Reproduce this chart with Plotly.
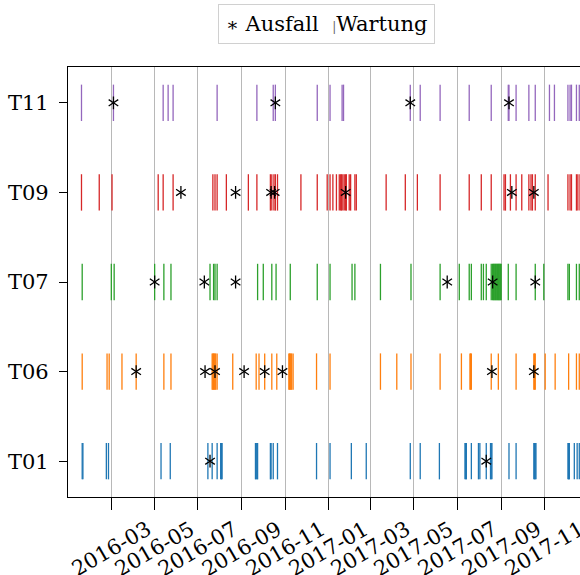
import plotly.graph_objects as go

machines = ["T01", "T06", "T07", "T09", "T11"]
colors = ["#1f77b4", "#ff7f0e", "#2ca02c", "#d62728", "#9467bd"]

T01_wartung = ["2016-01-20","2016-01-21","2016-02-23","2016-02-26","2016-05-10","2016-05-23","2016-07-15","2016-07-21",
               "2016-07-28","2016-08-02","2016-08-03","2016-08-04","2016-09-20","2016-09-21","2016-09-22","2016-09-23",
               "2016-10-11","2016-10-12","2016-10-15","2016-10-21","2016-12-15","2017-01-03","2017-02-02","2017-02-23",
               "2017-04-26","2017-05-10","2017-06-06","2017-07-12","2017-07-13","2017-07-14","2017-07-21","2017-07-31",
               "2017-08-02","2017-08-11","2017-08-17","2017-08-18","2017-08-19","2017-09-12","2017-09-22","2017-10-17",
               "2017-10-18","2017-10-19","2017-10-20","2017-12-04","2017-12-05","2017-12-06","2017-12-13","2017-12-17",
               "2017-12-20"]
T01_ausfall = ["2016-07-18", "2017-08-11"]

T06_wartung = ["2016-01-20","2016-02-24","2016-02-27","2016-03-16","2016-04-05","2016-05-14","2016-05-24","2016-07-21",
               "2016-07-22","2016-07-23","2016-07-24","2016-07-25","2016-07-26","2016-07-28","2016-08-19","2016-09-21",
               "2016-09-25","2016-10-03","2016-10-13","2016-10-20","2016-11-06","2016-11-07","2016-11-08","2016-11-09",
               "2016-11-10","2016-11-12","2016-12-15","2017-01-03","2017-03-15","2017-04-07","2017-04-27","2017-06-07",
               "2017-07-07","2017-07-19","2017-07-20","2017-07-21","2017-08-18","2017-08-28","2017-09-22","2017-10-17",
               "2017-10-18","2017-10-19","2017-11-02","2017-11-16","2017-12-05","2017-12-16","2017-12-20"]
T06_ausfall = ["2016-04-05","2016-07-11","2016-07-25","2016-09-04","2016-10-03","2016-10-28","2017-08-19","2017-10-17"]

T07_wartung = ["2016-01-20","2016-03-01","2016-03-05","2016-05-01","2016-05-14","2016-05-24","2016-07-18","2016-07-23",
               "2016-07-25","2016-07-28","2016-09-23","2016-10-01","2016-10-13","2016-10-19","2016-11-08","2016-12-16",
               "2017-01-03","2017-02-03","2017-02-07","2017-03-15","2017-04-27","2017-06-07","2017-07-04","2017-07-18",
               "2017-07-21","2017-08-04","2017-08-07","2017-08-11","2017-08-18","2017-08-20","2017-08-21","2017-08-22",
               "2017-08-23","2017-08-24","2017-08-25","2017-08-26","2017-08-27","2017-08-28","2017-08-29","2017-08-30",
               "2017-08-31","2017-09-01","2017-09-11","2017-09-22","2017-10-19","2017-10-31","2017-12-04","2017-12-06",
               "2017-12-16","2017-12-20"]
T07_ausfall = ["2016-05-01","2016-07-10","2016-08-23","2017-06-17","2017-08-20","2017-10-19"]

T09_wartung = ["2016-01-19","2016-02-13","2016-03-02","2016-05-06","2016-05-13","2016-05-27","2016-07-22","2016-07-25",
               "2016-07-28","2016-08-10","2016-09-10","2016-09-22","2016-10-11","2016-10-13","2016-10-16","2016-10-18",
               "2016-10-21","2016-11-23","2016-12-16","2016-12-30","2017-01-03","2017-01-07","2017-01-12","2017-01-16",
               "2017-01-18","2017-01-19","2017-01-21","2017-01-23","2017-01-25","2017-01-26","2017-01-30","2017-02-01",
               "2017-02-07","2017-02-09","2017-03-23","2017-04-19","2017-05-06","2017-06-07","2017-07-18","2017-08-04",
               "2017-08-18","2017-09-05","2017-09-07","2017-09-14","2017-09-22","2017-09-30","2017-10-10","2017-10-13",
               "2017-10-15","2017-10-19","2017-11-06","2017-12-04","2017-12-07","2017-12-09","2017-12-16","2017-12-18",
               "2017-12-21"]
T09_ausfall = ["2016-06-07","2016-08-23","2016-10-12","2016-10-17","2017-01-25","2017-09-16","2017-10-17"]

T11_wartung = ["2016-01-19","2016-03-04","2016-05-13","2016-05-20","2016-05-27","2016-07-28","2016-09-22","2016-10-15",
               "2016-10-18","2016-12-16","2017-01-03","2017-01-20","2017-01-22","2017-04-26","2017-05-10","2017-06-07",
               "2017-07-18","2017-08-18","2017-09-11","2017-09-12","2017-09-22","2017-10-10","2017-10-19","2017-11-08",
               "2017-11-15","2017-12-04","2017-12-07","2017-12-09","2017-12-16","2017-12-20"]
T11_ausfall = ["2016-03-04","2016-10-18","2017-04-26","2017-09-12"]

wartung = [T01_wartung, T06_wartung, T07_wartung, T09_wartung, T11_wartung]
ausfall = [T01_ausfall, T06_ausfall, T07_ausfall, T09_ausfall, T11_ausfall]

tick_dates = ["2016-03-01","2016-05-01","2016-07-01","2016-09-01","2016-11-01","2017-01-01",
              "2017-03-01","2017-05-01","2017-07-01","2017-09-01","2017-11-01"]
tick_labels = ["2016-03","2016-05","2016-07","2016-09","2016-11","2017-01",
               "2017-03","2017-05","2017-07","2017-09","2017-11"]

legend_names = ["Ausfall", "Wartung"]

FONT = "DejaVu Serif"

fig = go.Figure()

# Maintenance events (vertical line markers)
for m, c, dates in zip(machines, colors, wartung):
    fig.add_trace(go.Scatter(
        x=dates, y=[m] * len(dates), mode="markers", name=legend_names[1],
        marker=dict(symbol="line-ns", size=26, color=c, line=dict(color=c, width=1.3)),
        showlegend=False, hoverinfo="x+y"))

# Failures (six-armed asterisks = y-up + y-down overlaid)
ax, ay = [], []
for m, dates in zip(machines, ausfall):
    ax += dates
    ay += [m] * len(dates)
for sym in ["y-up", "y-down"]:
    fig.add_trace(go.Scatter(
        x=ax, y=ay, mode="markers", name=legend_names[0], showlegend=False,
        marker=dict(symbol=sym, size=8, color="black", line=dict(color="black", width=1.3))))

# Legend box (as in the reference: compact, framed)
legend_text = ("<span style='font-size:19px'>∗</span> " + legend_names[0] +
               "  <span style='font-size:12px;color:#666666'>|</span>" + legend_names[1])
fig.add_annotation(x=0.505, xref="paper", y=1.1, yref="paper", text=legend_text,
                   showarrow=False, xanchor="center", yanchor="middle",
                   bordercolor="#d0d0d0", borderwidth=1, borderpad=7, bgcolor="white",
                   font=dict(family=FONT, size=21, color="black"))

for d, lab in zip(tick_dates, tick_labels):
    fig.add_annotation(x=d, xref="x", y=0, yref="paper", yshift=-52, text=lab, showarrow=False,
                       textangle=-30, xanchor="center", yanchor="middle",
                       font=dict(family=FONT, size=21, color="black"))

fig.update_layout(
    width=580, height=575,
    margin=dict(l=68, r=0, t=67, b=78),
    paper_bgcolor="white", plot_bgcolor="white",
    font=dict(family=FONT, size=21, color="black"),
    showlegend=False,
    xaxis=dict(type="date", range=["2015-12-31", "2017-12-21"],
               tickvals=tick_dates, ticktext=tick_labels, showticklabels=False,
               showgrid=True, gridcolor="#b8b8b8", gridwidth=1,
               ticks="outside", ticklen=12, tickwidth=1.3, tickcolor="black",
               showline=True, linecolor="black", linewidth=1.3, mirror=True, zeroline=False),
    yaxis=dict(type="category", categoryorder="array", categoryarray=machines,
               range=[-0.4, 4.4], showgrid=False,
               ticks="outside", ticklen=8, tickwidth=1.3, tickcolor="black",
               showline=True, linecolor="black", linewidth=1.3, mirror=False,
               ticklabelstandoff=6,
               tickfont=dict(family=FONT, size=21)),
)

fig.write_html("out.html")
